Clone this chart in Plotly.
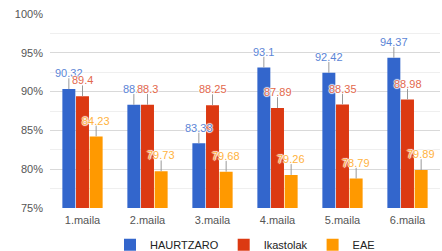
import plotly.graph_objects as go

categories = ["1.maila", "2.maila", "3.maila", "4.maila", "5.maila", "6.maila"]
haurtzaro = [90.32, 88.3, 83.33, 93.1, 92.42, 94.37]
ikastolak = [89.4, 88.3, 88.25, 87.89, 88.35, 88.98]
eae = [84.23, 79.73, 79.68, 79.26, 78.79, 79.89]
err = 1.4

series = [
    ("HAURTZARO", haurtzaro, "#3366cc", "#5b85d6", -13.8),
    ("Ikastolak", ikastolak, "#dc3912", "#e3684c", 0),
    ("EAE", eae, "#ff9900", "#ffb23e", 13.8),
]

fig = go.Figure()
annotations = []
for name, vals, col, lcol, shift in series:
    fig.add_trace(go.Bar(
        x=categories, y=vals, name=name, marker=dict(color=col, line=dict(width=0)),
        error_y=dict(type="constant", value=err, symmetric=False,
                     valueminus=0, color="#999999", thickness=1, width=0),
    ))
    for c, v in zip(categories, vals):
        annotations.append(dict(
            x=c, y=v + err, xref="x", yref="y", text=f"{v:g}", showarrow=False,
            yanchor="bottom", xanchor="center", xshift=shift, yshift=-3,
            font=dict(family="Liberation Sans, Arial", size=11, color=lcol,
                      shadow="1px 0px 1px white, -1px 0px 1px white, 0px 1px 1px white, 0px -1px 1px white"),
        ))

fig.update_layout(
    width=442, height=251,
    margin=dict(l=50, r=2, t=14, b=43, autoexpand=False),
    paper_bgcolor="white", plot_bgcolor="white",
    barmode="group", bargap=0.37, bargroupgap=0.05,
    font=dict(family="Liberation Sans, Arial", size=11, color="#444444"),
    showlegend=True,
    legend=dict(orientation="h", x=0.5, xanchor="center", y=-0.115, yanchor="top",
                font=dict(size=11, color="#222222"), itemwidth=30, traceorder="normal"),
    annotations=annotations,
    xaxis=dict(showgrid=False, showline=False, ticks="", automargin=False, ticklabelstandoff=4,
               tickfont=dict(size=11, color="#555555")),
    yaxis=dict(range=[75, 100], tickvals=[75, 80, 85, 90, 95, 100], automargin=False,
               ticktext=["75%", "80%", "85%", "90%", "95%", "100%"], ticklabelstandoff=6,
               gridcolor="#d9d9d9", zeroline=False, showline=False, ticks="",
               minor=dict(tickvals=[77.5, 82.5, 87.5, 92.5, 97.5], showgrid=True, gridcolor="#efefef"),
               tickfont=dict(size=11, color="#555555")),
)

fig.write_html("out.html", config={"displayModeBar": False},
               post_script="document.body.style.margin='0';document.body.style.overflow='hidden';")
